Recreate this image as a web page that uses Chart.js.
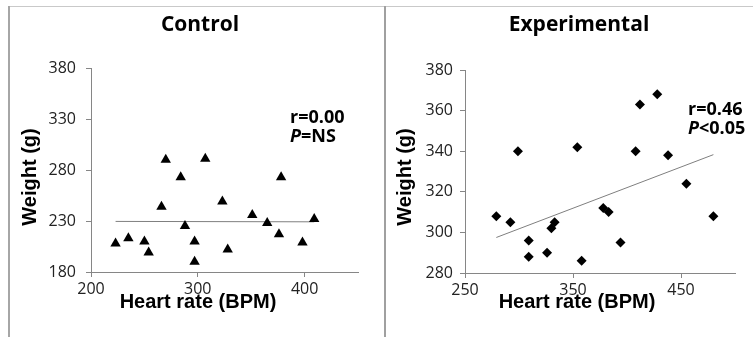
<!DOCTYPE html>
<html>
<head>
<meta charset="utf-8">
<script src="https://cdn.jsdelivr.net/npm/chart.js@4.4.0/dist/chart.umd.min.js"></script>
<style>
  html, body { margin: 0; padding: 0; background: #fff; }
  #wrap { position: relative; width: 753px; height: 337px; overflow: hidden; }
  #wrap canvas { position: absolute; top: 0; }
  #controlChart { left: 0; }
  #expChart { left: 385px; }
  .frameTop { position: absolute; left: 8px; top: 6px; width: 745px; height: 1px; background: #c9c9c9; }
  .frameLeft { position: absolute; left: 8px; top: 6px; width: 2px; height: 331px; background: #a6a6a6; }
  .divider { position: absolute; left: 384px; top: 6px; width: 2px; height: 331px; background: #a0a0a0; }
</style>
</head>
<body>
<div id="wrap">
    <div class="frameTop"></div>
    <div class="frameLeft"></div>
    <div class="divider"></div>
    <canvas id="controlChart" width="385" height="337"></canvas>
    <canvas id="expChart" width="368" height="337"></canvas>
</div>
<script>
// Heart rate vs body weight, control and experimental groups

// Control group (triangles)
const controlHR = [223, 235, 250, 254, 266, 270, 284, 288, 297, 297, 307, 323, 328, 351, 365, 376, 378, 398, 409];
const controlWt = [208, 213, 210, 199, 244, 290, 273, 225, 210, 190, 291, 249, 202, 236, 228, 217, 273, 209, 232];
const controlTrendX = [223, 409];
const controlTrendY = [229.6, 229.2];
const controlXTicks = [200, 300, 400];
const controlYTicks = [180, 230, 280, 330, 380];

// Experimental group (diamonds)
const expHR = [279, 292, 299, 309, 309, 326, 330, 333, 354, 358, 378, 383, 394, 408, 412, 428, 438, 455, 480];
const expWt = [308, 305, 340, 296, 288, 290, 302, 305, 342, 286, 312, 310, 295, 340, 363, 368, 338, 324, 308];
const expTrendX = [279, 480];
const expTrendY = [297.5, 338.3];
const expXTicks = [250, 350, 450];
const expYTicks = [280, 300, 320, 340, 360, 380];

// Texts
const panelTitles = ['Control', 'Experimental'];
const xTitle = 'Heart rate (BPM)';
const yTitle = 'Weight (g)';
const rTexts = ['r=0.00', 'r=0.46'];
const pTexts = ['=NS', '<0.05'];

function toPoints(xs, ys) {
    return xs.map((x, i) => ({ x: x, y: ys[i] }));
}

// Draws the panel title, axis titles and the r / P note
const panelText = {
    id: 'panelText',
    afterDraw(chart, args, o) {
        const ctx = chart.ctx;
        ctx.save();
        ctx.fillStyle = '#000';
        ctx.textBaseline = 'middle';

        ctx.textAlign = 'center';
        ctx.font = 'bold 21px "Open Sans"';
        ctx.fillText(o.title, o.titleX, 25);

        ctx.font = 'bold 20px "Liberation Sans"';
        ctx.fillText(xTitle, o.xTitleX, 302);

        ctx.save();
        ctx.translate(o.yTitleX, 177);
        ctx.rotate(-Math.PI / 2);
        ctx.fillText(yTitle, 0, 0);
        ctx.restore();

        ctx.textAlign = 'left';
        ctx.font = 'bold 18px "Open Sans"';
        ctx.fillText(o.r, o.noteX, o.noteY);
        ctx.font = 'italic bold 18px "Open Sans"';
        ctx.fillText('P', o.noteX, o.noteY + 19);
        const w = ctx.measureText('P').width;
        ctx.font = 'bold 18px "Open Sans"';
        ctx.fillText(o.p, o.noteX + w, o.noteY + 19);
        ctx.restore();
    }
};

function makeScales(xMin, xMax, xTicks, yMin, yMax, yTicks, yWidth, xHeight, yPad) {
    const axisColor = '#868686';
    const tickFont = { family: 'Open Sans', size: 16 };
    return {
        x: {
            type: 'linear',
            min: xMin,
            max: xMax,
            afterBuildTicks: function (s) { s.ticks = xTicks.map(v => ({ value: v })); },
            afterFit: function (s) { s.height = xHeight; },
            grid: { drawOnChartArea: false, drawTicks: true, tickLength: 5, color: axisColor },
            border: { color: axisColor, width: 1 },
            ticks: { font: tickFont, color: '#222', padding: 3, maxRotation: 0 }
        },
        y: {
            type: 'linear',
            min: yMin,
            max: yMax,
            afterBuildTicks: function (s) { s.ticks = yTicks.map(v => ({ value: v })); },
            afterFit: function (s) { s.width = yWidth; },
            grid: { drawOnChartArea: false, drawTicks: true, tickLength: 5, color: axisColor },
            border: { color: axisColor, width: 1 },
            ticks: { font: tickFont, color: '#222', padding: yPad }
        }
    };
}

function makeChart(id, pts, trend, style, radius, scales, padding, textOpts) {
    return new Chart(document.getElementById(id), {
        type: 'scatter',
        data: {
            datasets: [{
                data: pts,
                pointStyle: style,
                pointRadius: radius,
                pointHoverRadius: radius,
                backgroundColor: '#000',
                borderColor: '#000',
                borderWidth: 0
            }, {
                data: trend,
                showLine: true,
                borderColor: '#7f7f7f',
                borderWidth: 1,
                pointRadius: 0
            }]
        },
        options: {
            responsive: false,
            animation: false,
            layout: { padding: padding },
            plugins: {
                legend: { display: false },
                tooltip: { enabled: false },
                panelText: textOpts
            },
            scales: scales
        },
        plugins: [panelText]
    });
}

makeChart('controlChart',
    toPoints(controlHR, controlWt),
    toPoints(controlTrendX, controlTrendY),
    'triangle', 6,
    makeScales(200, 450, controlXTicks, 180, 380, controlYTicks, 91, 65, 10),
    { top: 68, right: 27, left: 0, bottom: 0 },
    { title: panelTitles[0], titleX: 200, xTitleX: 198, yTitleX: 30, r: rTexts[0], p: pTexts[0], noteX: 290, noteY: 118 });

makeChart('expChart',
    toPoints(expHR, expWt),
    toPoints(expTrendX, expTrendY),
    'rectRot', 5,
    makeScales(250, 500, expXTicks, 280, 380, expYTicks, 80, 64, 7),
    { top: 70, right: 18, left: 0, bottom: 0 },
    { title: panelTitles[1], titleX: 194, xTitleX: 192, yTitleX: 20, r: rTexts[1], p: pTexts[1], noteX: 303, noteY: 110 });
</script>
</body>
</html>
